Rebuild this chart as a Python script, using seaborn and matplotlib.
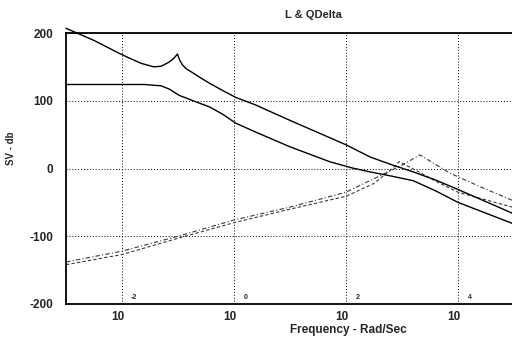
import numpy as np
import pandas as pd
import matplotlib
matplotlib.use("Agg")
import matplotlib.pyplot as plt
import matplotlib.transforms as mtransforms
import seaborn as sns

# ---- data ----
title = "L & QDelta"
xlabel = "Frequency - Rad/Sec"
ylabel = "SV - db"

# upper singular value of L
L_max_logw = [-3.0, -2.5, -2.05, -1.87, -1.65, -1.43, -1.3, -1.16, -1.07, -1.01, -0.97, -0.92,
              -0.85, -0.75, -0.6, -0.44, -0.2, 0.03, 0.38, 1.0, 1.5, 2.0, 2.43, 2.8, 3.2,
              3.6, 4.0, 4.5, 4.97]
L_max_db = [207, 189, 170, 163, 155, 150, 151, 157, 163, 169, 160, 153,
            147, 142, 134, 126, 115, 105, 94, 71, 53, 35, 17, 6, -5,
            -17, -31, -49, -66]

# lower singular value of L
L_min_logw = [-3.0, -1.6, -1.3, -1.15, -0.98, -0.7, -0.44, -0.2, 0.03, 0.38, 1.0, 1.71,
              2.1, 2.43, 2.8, 3.2, 3.6, 4.0, 4.5, 4.97]
L_min_db = [124, 124, 122, 117, 108, 99, 91, 80, 67, 54, 32, 10,
            1, -5, -11, -18, -33, -50, -66, -81]

# QDelta singular values
QA_logw = [-3.0, -2.0, -1.0, 0.0, 1.0, 2.0, 2.5, 3.0, 3.32, 3.6, 3.86, 4.4, 4.97]
QA_db = [-138, -122, -100, -76, -57, -35, -15, 5, 20, 6, -7, -27, -47]

QB_logw = [-3.0, -2.0, -1.0, 0.0, 1.0, 2.0, 2.5, 2.8, 2.95, 3.3, 3.63, 4.0, 4.97]
QB_db = [-142, -127, -103, -80, -60, -41, -22, -2, 10, -5, -20, -35, -57]

ytick_vals = [-200, -100, 0, 100, 200]
xtick_exps = [-2, 0, 2, 4]

# ---- build frames ----
def frame(logw, db, name):
    return pd.DataFrame({"freq": np.power(10.0, logw), "sv": db, "series": name})

df_Lmax = frame(L_max_logw, L_max_db, "L max")
df_Lmin = frame(L_min_logw, L_min_db, "L min")
df_QA = frame(QA_logw, QA_db, "QDelta A")
df_QB = frame(QB_logw, QB_db, "QDelta B")

sns.set_style("white")
plt.rcParams["font.family"] = ["Liberation Sans", "DejaVu Sans"]
plt.rcParams["font.weight"] = "bold"

fig = plt.figure(figsize=(5.12, 3.38), dpi=100)
ax = fig.add_axes([66 / 512, 1 - 304 / 338, 448 / 512, 271 / 338])

sns.lineplot(data=df_QA, x="freq", y="sv", ax=ax, color="#3a3a3a", lw=0.8,
             estimator=None, sort=False, linestyle=(0, (4, 2, 1, 2)))
sns.lineplot(data=df_QB, x="freq", y="sv", ax=ax, color="#3a3a3a", lw=0.8,
             estimator=None, sort=False, linestyle=(0, (3, 2)))
sns.lineplot(data=df_Lmin, x="freq", y="sv", ax=ax, color="black", lw=1.0,
             estimator=None, sort=False)
sns.lineplot(data=df_Lmax, x="freq", y="sv", ax=ax, color="black", lw=1.0,
             estimator=None, sort=False, clip_on=False)

ax.set_xscale("log")
ax.set_xlim(1e-3, 1e5)
ax.set_ylim(-200, 200)

ax.set_xticks([10.0 ** e for e in xtick_exps])
ax.set_xticklabels(["10"] * len(xtick_exps))
ax.minorticks_off()
ax.set_yticks(ytick_vals)
ax.set_yticklabels([str(v) for v in ytick_vals])
ax.tick_params(axis="both", length=0, labelsize=8.5)
ax.tick_params(axis="x", pad=5)
ax.tick_params(axis="y", pad=9)
for lab in ax.get_xticklabels():
    lab.set_fontweight("bold")
    lab.set_transform(lab.get_transform() + mtransforms.ScaledTranslation(-4 / 100, 0, fig.dpi_scale_trans))
for lab in ax.get_yticklabels():
    lab.set_fontweight("bold")

# exponents drawn displaced inside the axes, as in the scan
for e in xtick_exps:
    ax.annotate(str(e), xy=(10.0 ** e, 0), xycoords=("data", "axes fraction"),
                xytext=(8.5, 2), textcoords="offset points",
                ha="center", va="bottom", fontsize=5, fontweight="bold")

ax.grid(True, which="major", color="black", linestyle=(0, (1, 2)), lw=0.7)
for side in ["left", "bottom", "top"]:
    ax.spines[side].set_color("black")
    ax.spines[side].set_linewidth(1.3)
ax.spines["right"].set_visible(False)

ax.set_xlabel("")
ax.set_ylabel("")
fig.text(348 / 512, 1 - 330 / 338, xlabel, ha="center", va="center",
         fontsize=8.5, fontweight="bold")
fig.text(11 / 512, 1 - 148 / 338, ylabel, ha="center", va="center",
         rotation=90, fontsize=7, fontweight="bold")
fig.text(313 / 512, 1 - 15 / 338, title, ha="center", va="center",
         fontsize=8, fontweight="bold")

fig.savefig("out.png", dpi=100)
